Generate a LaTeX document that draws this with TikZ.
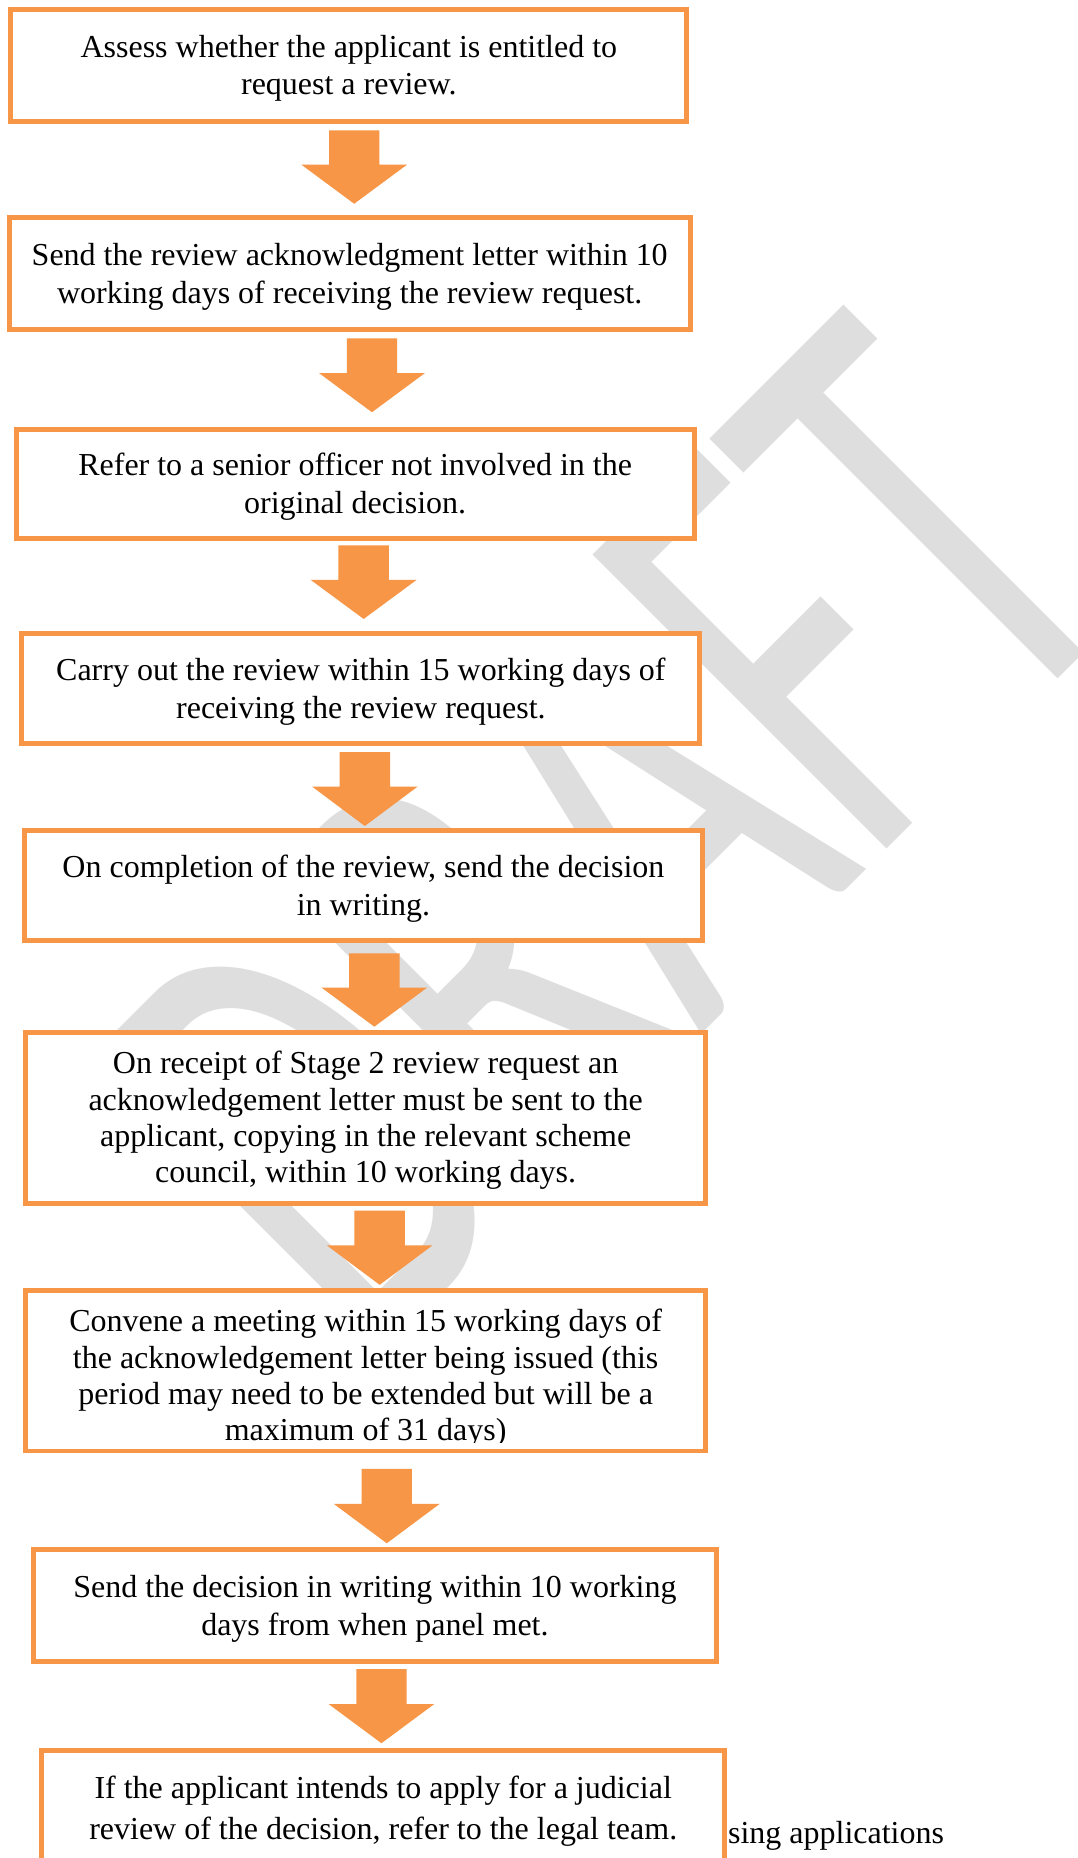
\documentclass[tikz,border=0pt]{standalone}
\usepackage{fontspec}
\setmainfont{Liberation Serif}
\newfontfamily\wmfont{Carlito}
\usepackage{graphicx}
\definecolor{accent}{HTML}{F79646}
\definecolor{wmgray}{RGB}{222,222,222}
\newcommand{\blockarr}[4]{%
  \fill[accent] (#1-21.25,#2) -- (#1+21.25,#2) -- (#1+21.25,#3) -- (#1+44.6,#3)
    -- (#1,#4) -- (#1-44.6,#3) -- (#1-21.25,#3) -- cycle;}
\begin{document}
\begin{tikzpicture}[x=1pt,y=-1pt,
  flowbox/.style={draw=accent, line width=4.2pt, fill=white, rectangle, inner sep=0pt},
  boxtext/.style={align=center, inner sep=0pt, font=\fontsize{27}{32}\selectfont},
  tighttext/.style={boxtext, font=\fontsize{27}{30.7}\selectfont},
  loosetext/.style={boxtext, font=\fontsize{27}{34}\selectfont}]
\useasboundingbox (0,0) rectangle (910,1568.5);
\fill[white] (0,0) rectangle (910,1568.5);
% watermark
\node[rotate=45, anchor=south west, inner sep=0pt, text=wmgray] (wm) at (308.7,1157.3)
  {\resizebox{925pt}{350.5pt}{\wmfont DRAFT}};
% text partly hidden behind the last box
\node[boxtext, anchor=base west] (tail) at (614.5,1556.5) {sing applications};
% boxes
\node[flowbox, minimum width=570.8pt, minimum height=94.3pt] (b1) at (294.5,55.45) {};
\node[boxtext] (t1) at (294.5,57.7) {Assess whether the applicant is entitled to\\request a review.};
\node[flowbox, minimum width=574.6pt, minimum height=94.3pt] (b2) at (295.2,230.75) {};
\node[boxtext] (t2) at (295.2,233.9) {Send the review acknowledgment letter within 10\\working days of receiving the review request.};
\node[flowbox, minimum width=572.2pt, minimum height=92pt] (b3) at (299.8,408.3) {};
\node[boxtext] (t3) at (299.8,410.7) {Refer to a senior officer not involved in the\\original decision.};
\node[flowbox, minimum width=572.5pt, minimum height=92.9pt] (b4) at (304.65,580.95) {};
\node[boxtext] (t4) at (304.65,583.9) {Carry out the review within 15 working days of\\receiving the review request.};
\node[flowbox, minimum width=572.2pt, minimum height=92.8pt] (b5) at (306.8,747.2) {};
\node[boxtext] (t5) at (306.8,750.5) {On completion of the review, send the decision\\in writing.};
\node[flowbox, minimum width=574.5pt, minimum height=144.1pt] (b6) at (308.65,943.65) {};
\node[tighttext] (t6) at (308.65,946) {On receipt of Stage 2 review request an\\acknowledgement letter must be sent to the\\applicant, copying in the relevant scheme\\council, within 10 working days.};
\node[flowbox, minimum width=574.5pt, minimum height=135.1pt] (b7) at (308.65,1157.35) {};
\begin{scope}
  \clip (21.4,1089.8) rectangle (595.9,1217.5);
  \node[tighttext] (t7) at (308.65,1163.6) {Convene a meeting within 15 working days of\\the acknowledgement letter being issued (this\\period may need to be extended but will be a\\maximum of 31 days)};
\end{scope}
\node[flowbox, minimum width=576.2pt, minimum height=95.1pt] (b8) at (316.5,1355.35) {};
\node[boxtext] (t8) at (316.5,1358) {Send the decision in writing within 10 working\\days from when panel met.};
\node[flowbox, minimum width=576.8pt, minimum height=221.9pt] (b9) at (323.5,1589.05) {};
\node[loosetext] (t9) at (323.5,1529) {If the applicant intends to apply for a judicial\\review of the decision, refer to the legal team.};
% block arrows between the boxes
\blockarr{299}{110}{139}{172}
\blockarr{314}{285.6}{315}{348}
\blockarr{307}{460.3}{489.6}{522.5}
\blockarr{308}{635}{664}{697.3}
\blockarr{316}{804.8}{833.7}{866.7}
\blockarr{320.5}{1022}{1051.3}{1084.6}
\blockarr{326.5}{1240}{1269.6}{1302.8}
\blockarr{322}{1409}{1438.5}{1471.6}
\end{tikzpicture}
\end{document}
